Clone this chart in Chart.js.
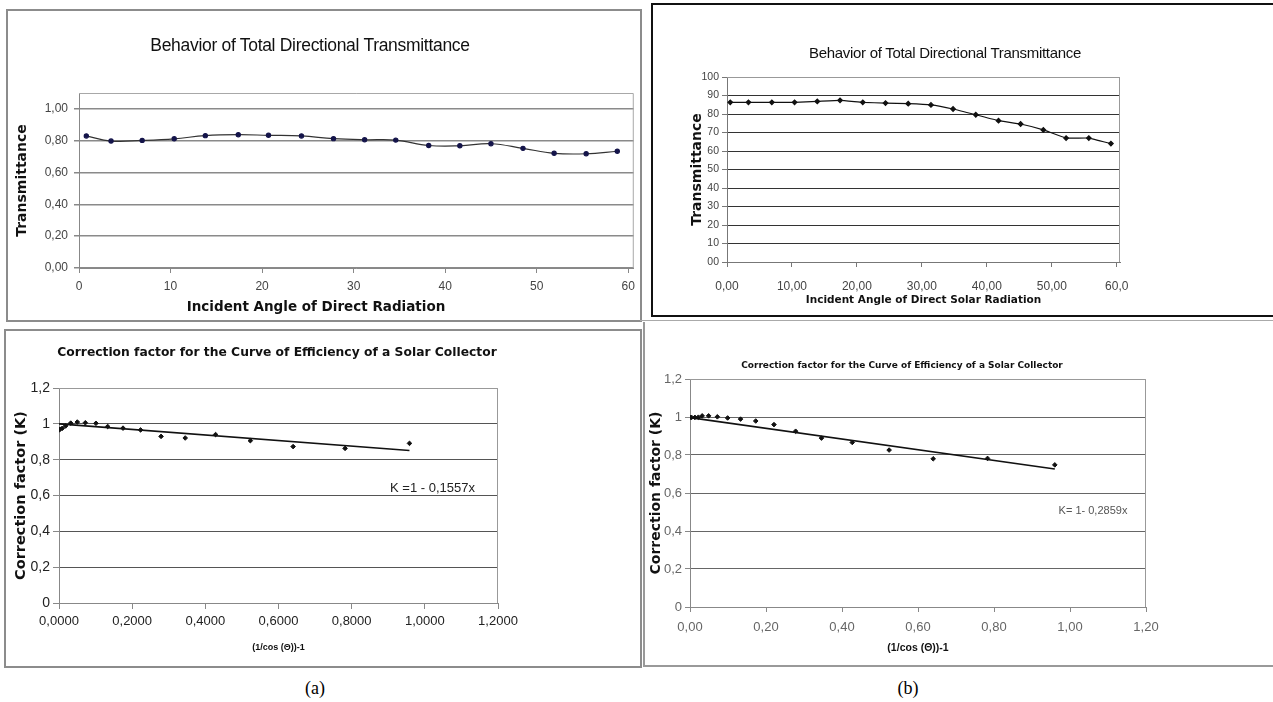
<!DOCTYPE html>
<html>
<head>
<meta charset="utf-8">
<script src="https://cdn.jsdelivr.net/npm/chart.js@4.4.1/dist/chart.umd.min.js"></script>
<style>
  html, body { margin: 0; padding: 0; background: #fff; }
  body { width: 1273px; height: 702px; position: relative; overflow: hidden; font-family: 'Liberation Sans', Arial, sans-serif; }
  canvas { position: absolute; }
  .box { position: absolute; box-sizing: border-box; }
  .ttl { position: absolute; transform: translate(-50%, -50%); white-space: nowrap; color: #111; }
</style>
</head>
<body>

<div class="box" style="left:6px;top:9px;width:636px;height:313px;border:2px solid #8c8c8c;"></div>
<div class="box" style="left:651px;top:3px;width:640px;height:314px;border:2px solid #111;"></div>
<div class="box" style="left:640px;top:320px;width:640px;height:1px;background:#aaa;"></div>
<div class="box" style="left:4px;top:329px;width:638px;height:339px;border:2px solid #8c8c8c;"></div>
<div class="box" style="left:643px;top:322px;width:2px;height:345px;background:#999;"></div>
<div class="box" style="left:643px;top:665px;width:640px;height:2px;background:#999;"></div>

<canvas id="chartA" width="635" height="308" style="left:6px;top:10px;"></canvas>
<canvas id="chartB" width="619" height="308" style="left:654px;top:6px;"></canvas>
<canvas id="chartC" width="633" height="334" style="left:6px;top:331px;"></canvas>
<canvas id="chartD" width="627" height="336" style="left:646px;top:328px;"></canvas>

<div class="ttl" style="left:310px;top:45px;font-size:17.5px;letter-spacing:-0.3px;">Behavior of Total Directional Transmittance</div>
<div class="ttl" style="left:316px;top:306px;font-size:13.5px;font-weight:bold;font-family:'DejaVu Sans',Verdana,sans-serif;">Incident Angle of Direct Radiation</div>
<div class="ttl" style="left:945px;top:52px;font-size:15px;letter-spacing:-0.3px;">Behavior of Total Directional Transmittance</div>
<div class="ttl" style="left:277px;top:352px;font-size:12.3px;font-weight:bold;font-family:'DejaVu Sans',Verdana,sans-serif;">Correction factor for the Curve of Efficiency of a Solar Collector</div>
<div class="ttl" style="left:902px;top:365px;font-size:9px;font-weight:bold;font-family:'DejaVu Sans',Verdana,sans-serif;">Correction factor for the Curve of Efficiency of a Solar Collector</div>
<div class="ttl" style="left:315px;top:688px;font-size:18px;font-family:'Liberation Serif',serif;color:#000;">(a)</div>
<div class="ttl" style="left:908px;top:688px;font-size:18px;font-family:'Liberation Serif',serif;color:#000;">(b)</div>

<script>
// (a) top: transmittance vs incident angle
const A_ANGLE = [0.8, 3.5, 6.9, 10.4, 13.8, 17.4, 20.7, 24.3, 27.8, 31.2, 34.6, 38.2, 41.6, 45.0, 48.5, 51.9, 55.4, 58.8];
const A_TRANS = [0.830, 0.798, 0.802, 0.812, 0.832, 0.838, 0.834, 0.830, 0.813, 0.806, 0.804, 0.770, 0.768, 0.781, 0.752, 0.721, 0.718, 0.734];
const A_X_TICKS = [0, 10, 20, 30, 40, 50, 60];
const A_X_LABELS = ['0', '10', '20', '30', '40', '50', '60'];
const A_Y_TICKS = [0, 0.2, 0.4, 0.6, 0.8, 1.0];
const A_Y_LABELS = ['0,00', '0,20', '0,40', '0,60', '0,80', '1,00'];

// (b) top: transmittance (%) vs incident angle
const B_ANGLE = [0.5, 3.3, 6.9, 10.4, 13.9, 17.4, 20.9, 24.4, 27.9, 31.4, 34.8, 38.3, 41.8, 45.2, 48.7, 52.2, 55.7, 59.1];
const B_TRANS = [86.3, 86.3, 86.3, 86.3, 86.8, 87.4, 86.3, 85.9, 85.6, 84.9, 82.7, 79.6, 76.4, 74.6, 71.4, 67.0, 67.0, 64.0];
const B_X_TICKS = [0, 10, 20, 30, 40, 50, 60];
const B_X_LABELS = ['0,00', '10,00', '20,00', '30,00', '40,00', '50,00', '60,0'];
const B_Y_TICKS = [0, 10, 20, 30, 40, 50, 60, 70, 80, 90, 100];
const B_Y_LABELS = ['00', '10', '20', '30', '40', '50', '60', '70', '80', '90', '100'];

// (a) bottom: correction factor K vs (1/cos θ) - 1
const C_X = [0.000, 0.003, 0.009, 0.018, 0.032, 0.050, 0.072, 0.101, 0.133, 0.175, 0.223, 0.279, 0.345, 0.428, 0.523, 0.640, 0.782, 0.958];
const C_K = [0.966, 0.970, 0.975, 0.988, 1.004, 1.010, 1.006, 1.003, 0.985, 0.976, 0.966, 0.930, 0.921, 0.940, 0.906, 0.873, 0.863, 0.891];
const C_TREND_X = [0, 0.958];
const C_TREND_K = [1.0, 0.851];
const C_EQ = 'K =1 - 0,1557x';
const C_EQ_AT = [0.905, 0.64];
const C_X_TICKS = [0, 0.2, 0.4, 0.6, 0.8, 1.0, 1.2];
const C_X_LABELS = ['0,0000', '0,2000', '0,4000', '0,6000', '0,8000', '1,0000', '1,2000'];

// (b) bottom
const D_X = [0.000, 0.004, 0.013, 0.022, 0.032, 0.049, 0.072, 0.099, 0.133, 0.173, 0.221, 0.278, 0.346, 0.427, 0.524, 0.640, 0.783, 0.960];
const D_K = [0.998, 0.998, 0.998, 0.999, 1.006, 1.006, 1.001, 0.995, 0.989, 0.979, 0.960, 0.925, 0.889, 0.866, 0.826, 0.780, 0.782, 0.748];
const D_TREND_X = [0, 0.960];
const D_TREND_K = [0.997, 0.726];
const D_EQ = 'K= 1- 0,2859x';
const D_EQ_AT = [0.97, 0.505];
const D_X_TICKS = [0, 0.2, 0.4, 0.6, 0.8, 1.0, 1.2];
const D_X_LABELS = ['0,00', '0,20', '0,40', '0,60', '0,80', '1,00', '1,20'];

const K_Y_TICKS = [0, 0.2, 0.4, 0.6, 0.8, 1.0, 1.2];
const K_Y_LABELS = ['0', '0,2', '0,4', '0,6', '0,8', '1', '1,2'];

const pts = (xs, ys) => xs.map((x, i) => ({ x, y: ys[i] }));

// top and right edge of the plot area, like the Excel plot frame
const framePlugin = {
  id: 'frame',
  beforeDatasetsDraw(chart, args, opts) {
    const { ctx, chartArea: a } = chart;
    ctx.save();
    ctx.strokeStyle = opts.color || '#999';
    ctx.lineWidth = 1;
    ctx.beginPath();
    ctx.moveTo(a.left, a.top + 0.5);
    ctx.lineTo(a.right - 0.5, a.top + 0.5);
    ctx.lineTo(a.right - 0.5, a.bottom);
    ctx.stroke();
    ctx.restore();
  }
};

// trend line equation, placed in data coordinates
const eqPlugin = {
  id: 'eq',
  afterDatasetsDraw(chart, args, opts) {
    if (!opts.text) return;
    const ctx = chart.ctx;
    ctx.save();
    ctx.font = opts.font;
    ctx.fillStyle = opts.color;
    ctx.textBaseline = 'middle';
    ctx.textAlign = 'left';
    ctx.fillText(opts.text, chart.scales.x.getPixelForValue(opts.at[0]), chart.scales.y.getPixelForValue(opts.at[1]));
    ctx.restore();
  }
};

function axes(o) {
  return {
    x: {
      type: 'linear', min: o.xMin, max: o.xMax,
      afterBuildTicks: s => { s.ticks = o.xTicks.map(v => ({ value: v })); },
      afterFit: s => { s.height = o.xH; },
      grid: { drawOnChartArea: false, drawTicks: true, tickLength: o.tickLen, tickColor: o.axisColor },
      border: { color: o.axisColor, width: 1 },
      ticks: { autoSkip: false, maxRotation: 0, padding: o.xPad, color: o.tickColor, font: o.xFont, callback: (v, i) => o.xLabels[i] },
      title: { display: !!o.xTitle, text: o.xTitle || '', color: '#111', font: o.xTitleFont, padding: { top: 0, bottom: o.xTitlePad || 0 } }
    },
    y: {
      type: 'linear', min: o.yMin, max: o.yMax,
      afterBuildTicks: s => { s.ticks = o.yTicks.map(v => ({ value: v })); },
      afterFit: s => { s.width = o.yW; },
      grid: {
        color: c => (c.tick && c.tick.value >= o.yMax - 1e-9) ? o.frameColor : o.gridColor,
        lineWidth: o.gridWidth, drawTicks: true, tickLength: o.tickLen, tickColor: o.axisColor
      },
      border: { color: o.axisColor, width: 1 },
      ticks: { autoSkip: false, padding: o.yPad, color: o.tickColor, font: o.yFont, callback: (v, i) => o.yLabels[i] },
      title: { display: true, text: o.yTitle, color: '#111', font: o.yTitleFont, padding: { top: o.yTitlePad, bottom: 0 } }
    }
  };
}

function makeChart(id, datasets, padding, scales, plugOpts) {
  return new Chart(document.getElementById(id), {
    type: 'scatter',
    data: { datasets },
    options: {
      responsive: false, animation: false, events: [],
      layout: { padding },
      scales,
      plugins: Object.assign({ legend: { display: false }, tooltip: { enabled: false }, title: { display: false } }, plugOpts)
    },
    plugins: [framePlugin, eqPlugin]
  });
}

const VERDANA_B = (s) => ({ family: "'DejaVu Sans', Verdana, sans-serif", size: s, weight: 'bold' });
const ARIAL = (s, w) => ({ family: "'Liberation Sans', Arial, sans-serif", size: s, weight: w || 'normal' });

makeChart('chartA', [{
  data: pts(A_ANGLE, A_TRANS), showLine: true, tension: 0.4,
  borderColor: '#333', borderWidth: 1.2,
  pointStyle: 'circle', pointRadius: 2.1, pointBackgroundColor: '#14144a', pointBorderColor: '#14144a'
}], { left: 0, right: 3, top: 83, bottom: 2 }, axes({
  xMin: 0, xMax: 60.6, xTicks: A_X_TICKS, xLabels: A_X_LABELS, xH: 48, xPad: 6, xFont: ARIAL(12),
  xTitle: null,
  yMin: 0, yMax: 1.1, yTicks: A_Y_TICKS, yLabels: A_Y_LABELS, yW: 73, yPad: 6, yFont: ARIAL(12),
  yTitle: 'Transmittance', yTitleFont: VERDANA_B(14), yTitlePad: 8,
  tickLen: 5, tickColor: '#444', axisColor: '#888', gridColor: '#8a8a8a', gridWidth: 1.5, frameColor: '#a8a8a8'
}), { frame: { color: '#a8a8a8' } });

makeChart('chartB', [{
  data: pts(B_ANGLE, B_TRANS), showLine: true, tension: 0.1,
  borderColor: '#111', borderWidth: 1.2,
  pointStyle: 'rectRot', pointRadius: 2.3, pointBackgroundColor: '#111', pointBorderColor: '#111'
}], { left: 30, right: 153, top: 71, bottom: 2 }, axes({
  xMin: 0, xMax: 60.5, xTicks: B_X_TICKS, xLabels: B_X_LABELS, xH: 50, xPad: 12, xFont: ARIAL(12),
  xTitle: 'Incident Angle of Direct Solar Radiation', xTitleFont: VERDANA_B(10.5), xTitlePad: 5,
  yMin: 0, yMax: 100, yTicks: B_Y_TICKS, yLabels: B_Y_LABELS, yW: 43, yPad: 3, yFont: ARIAL(10.5),
  yTitle: 'Transmittance', yTitleFont: VERDANA_B(14), yTitlePad: 5,
  tickLen: 5, tickColor: '#444', axisColor: '#777', gridColor: '#333', gridWidth: 1, frameColor: '#999'
}), { frame: { color: '#999' } });

makeChart('chartC', [{
  data: pts(C_X, C_K), showLine: false,
  pointStyle: 'rectRot', pointRadius: 2.3, pointBackgroundColor: '#111', pointBorderColor: '#111'
}, {
  data: pts(C_TREND_X, C_TREND_K), showLine: true, borderColor: '#111', borderWidth: 1.6, pointRadius: 0
}], { left: 0, right: 141, top: 57, bottom: 2 }, axes({
  xMin: 0, xMax: 1.2, xTicks: C_X_TICKS, xLabels: C_X_LABELS, xH: 60, xPad: 5, xFont: ARIAL(13),
  xTitle: '(1/cos (\u0398))-1', xTitleFont: ARIAL(9, 'bold'), xTitlePad: 10,
  yMin: 0, yMax: 1.2, yTicks: K_Y_TICKS, yLabels: K_Y_LABELS, yW: 53, yPad: 3, yFont: ARIAL(14),
  yTitle: 'Correction factor (K)', yTitleFont: VERDANA_B(14.5), yTitlePad: 7,
  tickLen: 6, tickColor: '#222', axisColor: '#888', gridColor: '#555', gridWidth: 1, frameColor: '#aaa'
}), { frame: { color: '#999' }, eq: { text: C_EQ, at: C_EQ_AT, font: "13px 'Liberation Sans', Arial", color: '#222' } });

makeChart('chartD', [{
  data: pts(D_X, D_K), showLine: false,
  pointStyle: 'rectRot', pointRadius: 2.3, pointBackgroundColor: '#111', pointBorderColor: '#111'
}, {
  data: pts(D_TREND_X, D_TREND_K), showLine: true, borderColor: '#111', borderWidth: 1.6, pointRadius: 0
}], { left: 0, right: 127, top: 51, bottom: 2 }, axes({
  xMin: 0, xMax: 1.2, xTicks: D_X_TICKS, xLabels: D_X_LABELS, xH: 55, xPad: 8, xFont: ARIAL(13),
  xTitle: '(1/cos (\u0398))-1', xTitleFont: ARIAL(10.5, 'bold'), xTitlePad: 8,
  yMin: 0, yMax: 1.2, yTicks: K_Y_TICKS, yLabels: K_Y_LABELS, yW: 44, yPad: 3, yFont: ARIAL(13),
  yTitle: 'Correction factor (K)', yTitleFont: VERDANA_B(14), yTitlePad: 2,
  tickLen: 5, tickColor: '#666', axisColor: '#888', gridColor: '#666', gridWidth: 1, frameColor: '#aaa'
}), { frame: { color: '#999' }, eq: { text: D_EQ, at: D_EQ_AT, font: "11px 'Liberation Sans', Arial", color: '#555' } });
</script>
</body>
</html>
